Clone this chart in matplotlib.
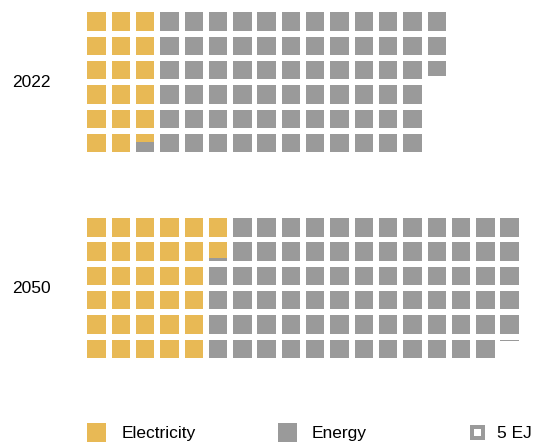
import numpy as np
import matplotlib.pyplot as plt
from matplotlib.patches import Rectangle

plt.rcParams['font.family'] = ['Liberation Sans', 'DejaVu Sans']

# data in EJ, one square = 5 EJ
years = ['2022', '2050']
electricity = [87.1, 159.2]
energy = [347.0, 376.1]
unit = 5
legend_labels = ['Electricity', 'Energy', '5 EJ']

c_elec = '#E8B955'
c_energy = '#9A9A9A'
rows = 6
size = 0.76
block_gap = 8.47

px = 24.3  # pixels per grid unit
fig = plt.figure(figsize=(5.38, 4.45), dpi=100)
ax = fig.add_axes([0, 0, 1, 1])
ax.set_xlim(-87.3 / px, (538 - 87.3) / px)
ax.set_ylim((445 - 12.3) / px, -12.3 / px)
ax.axis('off')


def cell(x, y, h, color):
    ax.add_patch(Rectangle((x, y), size, h, facecolor=color, edgecolor='none'))


for k, yr in enumerate(years):
    e = electricity[k] / unit
    tot = (electricity[k] + energy[k]) / unit
    yoff = k * block_gap
    for i in range(int(np.ceil(tot))):
        col, row = i // rows, i % rows
        x = col
        y = yoff + row
        fe = min(max(e - i, 0), 1)
        fn = min(max(min(tot, i + 1) - max(e, i), 0), 1)
        if fe > 0:
            cell(x, y, fe * size, c_elec)
        if fn > 0:
            cell(x, y + fe * size, max(fn * size, 0.04), c_energy)
    ax.text(-3.1, yoff + (rows - 1 + size) / 2, yr, fontsize=12.5,
            va='center', ha='left', color='black')

# legend
ly = 17.3
ax.add_patch(Rectangle((0, ly - size / 2), size, size, facecolor=c_elec,
                       edgecolor='none'))
ax.text(1.42, ly + 0.03, legend_labels[0], fontsize=12.5, va='center', ha='left')
ax.add_patch(Rectangle((7.85, ly - size / 2), size, size, facecolor=c_energy,
                       edgecolor='none'))
ax.text(9.23, ly + 0.03, legend_labels[1], fontsize=12.5, va='center', ha='left')
cx = 15.67 + size / 2
outer, inner = 0.64, 0.3
ax.add_patch(Rectangle((cx - outer / 2, ly - outer / 2), outer, outer,
                       facecolor=c_energy, edgecolor='none'))
ax.add_patch(Rectangle((cx - inner / 2, ly - inner / 2), inner, inner,
                       facecolor='white', edgecolor='none'))
ax.text(16.86, ly + 0.03, legend_labels[2], fontsize=12.5, va='center', ha='left')

fig.savefig('out.png', dpi=100)
